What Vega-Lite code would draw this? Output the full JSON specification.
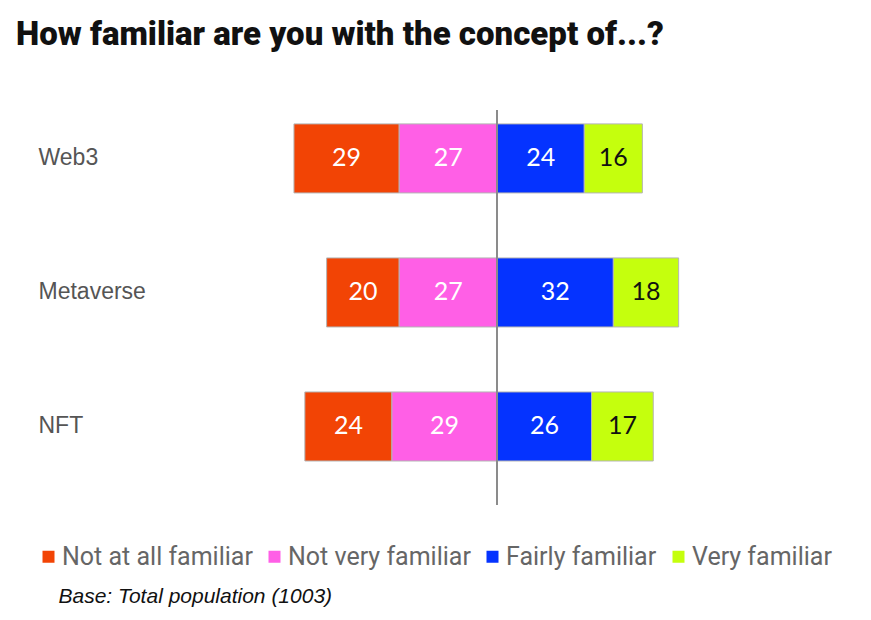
{
  "$schema": "https://vega.github.io/schema/vega-lite/v6.json",
  "autosize": "none",
  "width": 871,
  "height": 395,
  "padding": {"left": 0, "top": 110, "right": 0, "bottom": 115},
  "background": "white",
  "view": {"stroke": null},
  "title": {
    "text": "How familiar are you with the concept of...?",
    "anchor": "start",
    "frame": "group",
    "dx": 16,
    "offset": 31,
    "baseline": "alphabetic",
    "font": "Roboto",
    "fontWeight": 900,
    "fontSize": 33,
    "color": "#111111"
  },
  "data": {
    "values": [
      {"concept": "Web3", "response": "Not at all familiar", "value": -29, "pct": 29, "rank": 2},
      {"concept": "Web3", "response": "Not very familiar", "value": -27, "pct": 27, "rank": 1},
      {"concept": "Web3", "response": "Fairly familiar", "value": 24, "pct": 24, "rank": 3},
      {"concept": "Web3", "response": "Very familiar", "value": 16, "pct": 16, "rank": 4},
      {"concept": "Metaverse", "response": "Not at all familiar", "value": -20, "pct": 20, "rank": 2},
      {"concept": "Metaverse", "response": "Not very familiar", "value": -27, "pct": 27, "rank": 1},
      {"concept": "Metaverse", "response": "Fairly familiar", "value": 32, "pct": 32, "rank": 3},
      {"concept": "Metaverse", "response": "Very familiar", "value": 18, "pct": 18, "rank": 4},
      {"concept": "NFT", "response": "Not at all familiar", "value": -24, "pct": 24, "rank": 2},
      {"concept": "NFT", "response": "Not very familiar", "value": -29, "pct": 29, "rank": 1},
      {"concept": "NFT", "response": "Fairly familiar", "value": 26, "pct": 26, "rank": 3},
      {"concept": "NFT", "response": "Very familiar", "value": 17, "pct": 17, "rank": 4}
    ]
  },
  "transform": [
    {"stack": "value", "groupby": ["concept"], "sort": [{"field": "rank", "order": "ascending"}], "as": ["x0", "x1"]},
    {"calculate": "(datum.x0 + datum.x1) / 2", "as": "xmid"}
  ],
  "layer": [
    {
      "mark": {"type": "bar", "stroke": "#b4b4b4", "strokeWidth": 1},
      "encoding": {
        "y": {
          "field": "concept",
          "type": "nominal",
          "sort": ["Web3", "Metaverse", "NFT"],
          "scale": {"paddingInner": 0.485, "paddingOuter": 0.216, "align": 0.24},
          "axis": {
            "title": null,
            "domain": false,
            "ticks": false,
            "tickSize": 0,
            "labelAlign": "left",
            "labelPadding": -38,
            "labelFont": "Liberation Sans",
            "labelFontSize": 23,
            "labelColor": "#555555",
            "labelBaseline": "middle"
          }
        },
        "x": {
          "field": "x0",
          "type": "quantitative",
          "scale": {"domain": [-137, 103], "nice": false, "zero": false},
          "axis": {
            "title": "Base: Total population (1003)",
            "labels": false,
            "ticks": false,
            "domain": false,
            "grid": false,
            "titleAnchor": "start",
            "titleAlign": "left",
            "titleX": 58,
            "titleY": 97,
            "titleBaseline": "alphabetic",
            "titleFont": "Liberation Sans",
            "titleFontStyle": "italic",
            "titleFontWeight": "normal",
            "titleFontSize": 21,
            "titleColor": "#111111"
          }
        },
        "x2": {"field": "x1"},
        "color": {
          "field": "response",
          "type": "nominal",
          "scale": {
            "domain": ["Not at all familiar", "Not very familiar", "Fairly familiar", "Very familiar"],
            "range": ["#f24405", "#ff5fe6", "#0533ff", "#c5ff0d"]
          },
          "legend": {
            "title": null,
            "orient": "none",
            "direction": "horizontal",
            "legendX": 36,
            "legendY": 434,
            "padding": 0,
            "symbolType": "square",
            "symbolSize": 144,
            "symbolStrokeWidth": 0,
            "symbolOpacity": 1,
            "labelFont": "Roboto",
            "labelFontSize": 25,
            "labelColor": "#666666",
            "labelOffset": 1,
            "columnPadding": 9,
            "labelLimit": 400
          }
        }
      }
    },
    {
      "mark": {"type": "rule", "color": "#8c8c8c", "strokeWidth": 1.5},
      "encoding": {"x": {"datum": 0, "type": "quantitative"}}
    },
    {
      "mark": {"type": "text", "font": "Lato", "fontSize": 25, "baseline": "middle", "align": "center"},
      "encoding": {
        "y": {"field": "concept", "type": "nominal", "sort": ["Web3", "Metaverse", "NFT"]},
        "x": {"field": "xmid", "type": "quantitative"},
        "text": {"field": "pct", "type": "quantitative"},
        "color": {
          "condition": {"test": "datum.response === 'Very familiar'", "value": "#111111"},
          "value": "#ffffff"
        }
      }
    }
  ]
}
